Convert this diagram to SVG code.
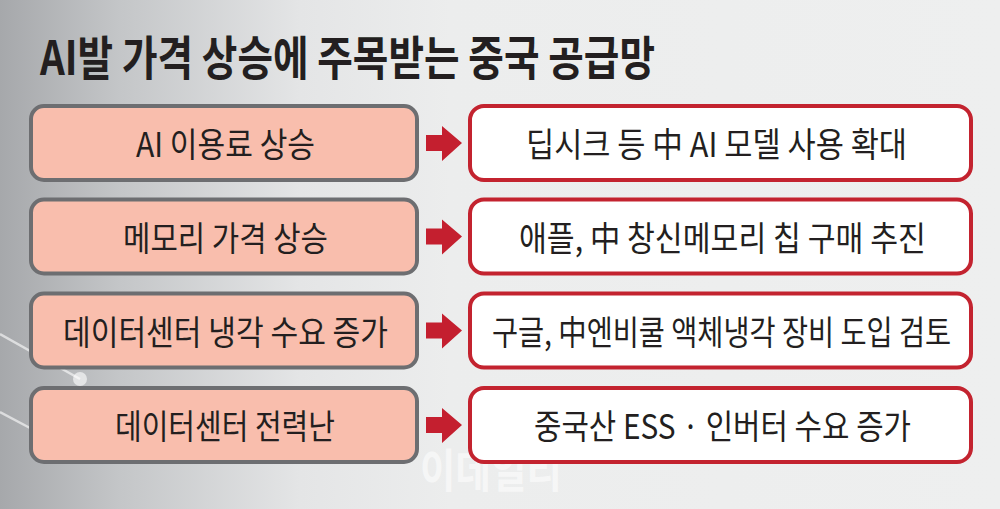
<svg xmlns="http://www.w3.org/2000/svg" width="1000" height="509" viewBox="0 0 1000 509">
  <defs>
    <linearGradient id="bg" x1="0" y1="0" x2="1" y2="0">
      <stop offset="0" stop-color="#a6a8ab"/>
      <stop offset="0.12" stop-color="#c4c6c8"/>
      <stop offset="0.3" stop-color="#e4e5e6"/>
      <stop offset="0.45" stop-color="#eceded"/>
      <stop offset="1" stop-color="#eeefef"/>
    </linearGradient>
    <style>
      .l { fill: #f9bead; stroke: #6d6e71; stroke-width: 4; }
      .r { fill: #ffffff; stroke: #c3232f; stroke-width: 4; }
      .t { font-family: "Noto Sans CJK KR", "Noto Sans", sans-serif; font-size: 34px; fill: #231f20; text-anchor: middle; }
      .arrow { fill: #c41f2f; }
      .deco { stroke: #ffffff; stroke-opacity: 0.6; stroke-width: 2.5; fill: none; }
    </style>
  </defs>
  <rect x="0" y="0" width="1000" height="509" fill="url(#bg)"/>
  <g id="decoration">
    <path class="deco" d="M0,334 L80,379"/>
    <path class="deco" d="M0,412 L30,428"/>
    <circle cx="80" cy="379" r="7" fill="#ffffff" fill-opacity="0.6"/>
  </g>
  <text id="watermark" x="420" y="487" font-family="'Noto Sans CJK KR', sans-serif" font-weight="bold" font-size="46" fill="#ffffff" fill-opacity="0.55" textLength="142" lengthAdjust="spacingAndGlyphs">이데일리</text>
  <text id="title" x="40" y="75" font-family="'Noto Sans CJK KR', 'Noto Sans', sans-serif" font-weight="bold" font-size="47" fill="#231f20" textLength="615" lengthAdjust="spacingAndGlyphs">AI발 가격 상승에 주목받는 중국 공급망</text>

  <g id="connectors">
    <path class="arrow" d="M426,135 H442 V126 L462,143 L442,161 V151 H426 Z"/>
    <path class="arrow" d="M426,228.5 H442 V219.5 L462,236.5 L442,254.5 V244.5 H426 Z"/>
    <path class="arrow" d="M426,322.5 H442 V313.5 L462,330.5 L442,348.5 V338.5 H426 Z"/>
    <path class="arrow" d="M426,417 H442 V408 L462,425 L442,443 V433 H426 Z"/>
  </g>

  <g id="cause1">
    <rect class="l" x="31" y="106" width="386" height="74" rx="13"/>
    <text class="t" x="225.5" y="157" textLength="179" lengthAdjust="spacingAndGlyphs">AI 이용료 상승</text>
  </g>
  <g id="cause2">
    <rect class="l" x="31" y="199.5" width="386" height="74" rx="13"/>
    <text class="t" x="225.5" y="250.5" textLength="205" lengthAdjust="spacingAndGlyphs">메모리 가격 상승</text>
  </g>
  <g id="cause3">
    <rect class="l" x="31" y="293.5" width="386" height="74" rx="13"/>
    <text class="t" x="225.5" y="344.5" textLength="325" lengthAdjust="spacingAndGlyphs">데이터센터 냉각 수요 증가</text>
  </g>
  <g id="cause4">
    <rect class="l" x="31" y="388" width="386" height="74" rx="13"/>
    <text class="t" x="225" y="439" textLength="220" lengthAdjust="spacingAndGlyphs">데이터센터 전력난</text>
  </g>

  <g id="effect1">
    <rect class="r" x="470" y="106" width="501" height="74" rx="14"/>
    <text class="t" x="716.5" y="157" textLength="381" lengthAdjust="spacingAndGlyphs">딥시크 등 中 AI 모델 사용 확대</text>
  </g>
  <g id="effect2">
    <rect class="r" x="470" y="199.5" width="501" height="74" rx="14"/>
    <text class="t" x="722.5" y="250.5" textLength="407" lengthAdjust="spacingAndGlyphs">애플, 中 창신메모리 칩 구매 추진</text>
  </g>
  <g id="effect3">
    <rect class="r" x="470" y="293.5" width="501" height="74" rx="14"/>
    <text class="t" transform="translate(721.5,344.5) scale(0.8,1)" x="0" y="0" textLength="574" lengthAdjust="spacingAndGlyphs">구글, 中엔비쿨 액체냉각 장비 도입 검토</text>
  </g>
  <g id="effect4">
    <rect class="r" x="470" y="388" width="501" height="74" rx="14"/>
    <text class="t" x="722.5" y="439" textLength="377" lengthAdjust="spacingAndGlyphs">중국산 ESS · 인버터 수요 증가</text>
  </g>
</svg>
